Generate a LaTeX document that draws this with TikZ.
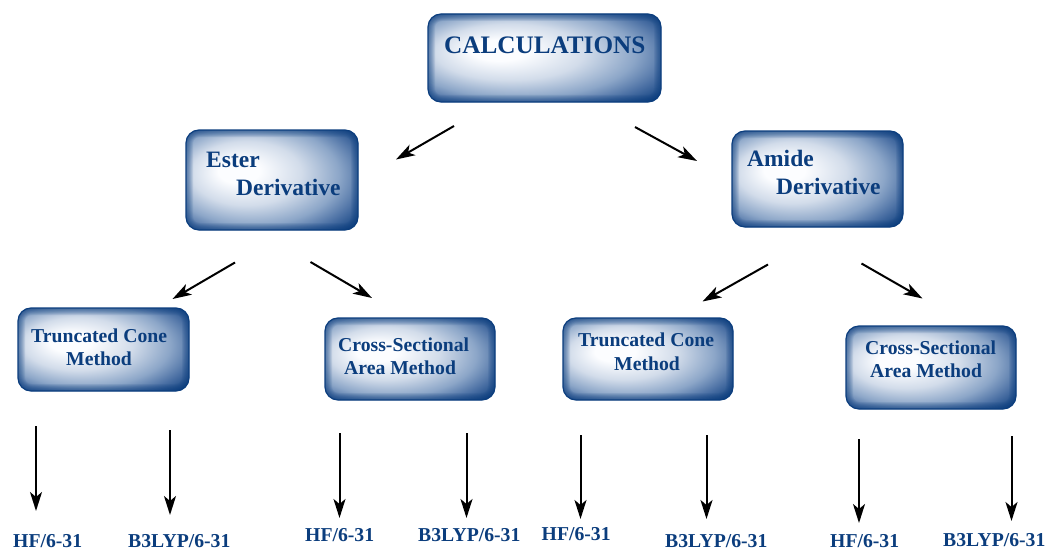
\documentclass[tikz,border=0pt]{standalone}
\usepackage{fontspec}
\setmainfont{Liberation Serif}
\usetikzlibrary{arrows.meta}
\definecolor{boxblue}{RGB}{12,62,126}
\definecolor{txtblue}{RGB}{11,61,125}
\definecolor{gA}{RGB}{252,253,255}
\definecolor{gB}{RGB}{210,220,234}
\definecolor{gC}{RGB}{140,166,200}
\definecolor{gD}{RGB}{75,112,164}
\pgfdeclareradialshading{boxglow}{\pgfpoint{-11bp}{5bp}}{color(0bp)=(gA); color(6bp)=(gA); color(16bp)=(gB); color(25bp)=(gC); color(31bp)=(gD); color(37bp)=(boxblue); color(50bp)=(boxblue)}
\tikzset{
  gbox/.style={draw=boxblue, line width=1.2pt, rounded corners=13pt, shade, shading=boxglow, inner sep=0pt,
    path picture={
      \foreach \w in {2,4,...,14}{
        \draw[boxblue, line width=\w pt, opacity=0.11, rounded corners=13pt]
          (path picture bounding box.south west) rectangle (path picture bounding box.north east);}
    }},
  big/.style={font=\bfseries\fontsize{25.2}{30}\selectfont, text=txtblue, inner sep=0pt, anchor=base west},
  mid/.style={font=\bfseries\fontsize{23.5}{28}\selectfont, text=txtblue, inner sep=0pt, anchor=base west},
  sml/.style={font=\bfseries\fontsize{19.7}{24}\selectfont, text=txtblue, inner sep=0pt, anchor=base west},
  arr/.style={-{Stealth[length=19pt,width=12pt,inset=5pt]}, line width=2pt, black},
}
\begin{document}
\begin{tikzpicture}[x=1pt,y=-1pt]
\useasboundingbox (0,0) rectangle (1050,551);
% boxes
\node[gbox, minimum width=233pt, minimum height=88pt] (calc) at (544.5,58) {};
\node[gbox, minimum width=172pt, minimum height=100pt] (ester) at (272,180) {};
\node[gbox, minimum width=171pt, minimum height=96pt] (amide) at (817.5,179) {};
\node[gbox, minimum width=171pt, minimum height=83pt] (tc1) at (103.5,349.5) {};
\node[gbox, minimum width=170pt, minimum height=82pt] (cs1) at (410,359) {};
\node[gbox, minimum width=170pt, minimum height=82pt] (tc2) at (648,359) {};
\node[gbox, minimum width=170pt, minimum height=83pt] (cs2) at (931,367.5) {};
% box texts
\node[big] (calct) at (444,54) {CALCULATIONS};
\node[mid] (est1) at (206,167) {Ester};
\node[mid] (est2) at (236,195) {Derivative};
\node[mid] (am1) at (747,166) {Amide};
\node[mid] (am2) at (776,194) {Derivative};
\node[sml] (tc1a) at (31,342) {Truncated Cone};
\node[sml] (tc1b) at (66,365) {Method};
\node[sml] (cs1a) at (338,351) {Cross-Sectional};
\node[sml] (cs1b) at (344,374) {Area Method};
\node[sml] (tc2a) at (578,346) {Truncated Cone};
\node[sml] (tc2b) at (614,370) {Method};
\node[sml] (cs2a) at (865,354) {Cross-Sectional};
\node[sml] (cs2b) at (870,377) {Area Method};
% bottom labels
\node[sml] (l1) at (13,547) {HF/6-31};
\node[sml] (l2) at (128,547.5) {B3LYP/6-31};
\node[sml] (l3) at (305,541) {HF/6-31};
\node[sml] (l4) at (418,541) {B3LYP/6-31};
\node[sml] (l5) at (541.5,540) {HF/6-31};
\node[sml] (l6) at (665,547.5) {B3LYP/6-31};
\node[sml] (l7) at (830,547.5) {HF/6-31};
\node[sml] (l8) at (943,546) {B3LYP/6-31};
% arrow end points
\coordinate (d1s) at (454,126);   \coordinate (d1e) at (396,159.5);
\coordinate (d2s) at (635,127);   \coordinate (d2e) at (697,161);
\coordinate (d3s) at (235,262.5); \coordinate (d3e) at (172.5,299);
\coordinate (d4s) at (310.5,262); \coordinate (d4e) at (372,298);
\coordinate (d5s) at (768,264.5); \coordinate (d5e) at (702.5,301.5);
\coordinate (d6s) at (861.5,263.5); \coordinate (d6e) at (922.5,298.5);
\coordinate (v1s) at (36,426);    \coordinate (v1e) at (36,511);
\coordinate (v2s) at (170,430);   \coordinate (v2e) at (170,515);
\coordinate (v3s) at (339.5,433); \coordinate (v3e) at (339.5,518);
\coordinate (v4s) at (466.5,433); \coordinate (v4e) at (466.5,518);
\coordinate (v5s) at (580.5,435); \coordinate (v5e) at (580.5,519);
\coordinate (v6s) at (706.5,435); \coordinate (v6e) at (706.5,519);
\coordinate (v7s) at (859,439);   \coordinate (v7e) at (859,523);
\coordinate (v8s) at (1011.5,436); \coordinate (v8e) at (1011.5,521);
% arrows
\foreach \a in {d1,d2,d3,d4,d5,d6,v1,v2,v3,v4,v5,v6,v7,v8}{
  \draw[arr] (\a s) -- (\a e);
}
\end{tikzpicture}
\end{document}
